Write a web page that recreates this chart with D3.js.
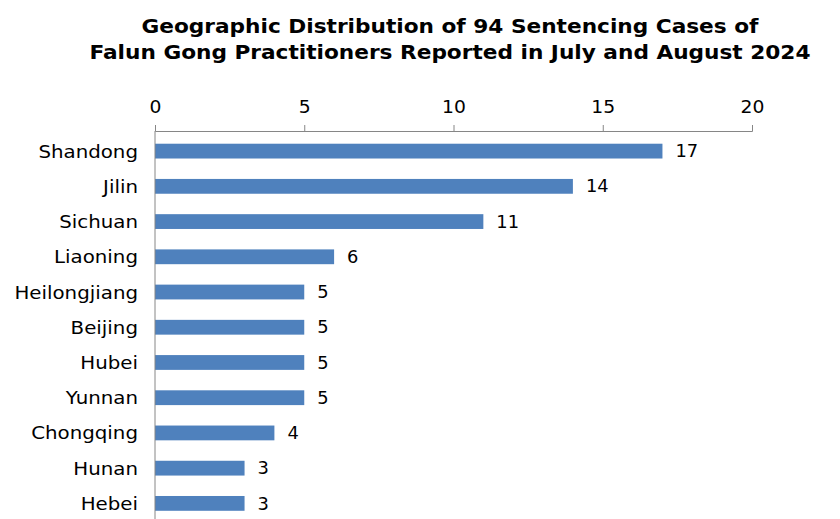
<!DOCTYPE html>
<head>
<meta charset="UTF-8">
<script src="https://cdn.jsdelivr.net/npm/d3@7"></script>
<style>
  body { margin: 0; background: #fff; }
  text { font-family: "DejaVu Sans", Verdana, sans-serif; }
</style>
</head>
<body>
<svg></svg>
<script>
var width = 840, height = 519;

// datos
var provincias = ["Shandong", "Jilin", "Sichuan", "Liaoning", "Heilongjiang", "Beijing",
                  "Hubei", "Yunnan", "Chongqing", "Hunan", "Hebei"];
var casos = [17, 14, 11, 6, 5, 5, 5, 5, 4, 3, 3];
var ticksX = [0, 5, 10, 15, 20];
var titulo = ["Geographic Distribution of 94 Sentencing Cases of",
              "Falun Gong Practitioners Reported in July and August 2024"];

var datos = provincias.map(function(p, i) { return { nombre: p, valor: casos[i] }; });

var svg = d3.select("svg").attr("width", width).attr("height", height);

var x = d3.scaleLinear().domain([0, 20]).range([155, 752]);
var y = d3.scaleBand().domain(provincias).range([133.5, 521]).paddingInner(0.58).paddingOuter(0.29);

// ensancha el texto (la fuente original es mas ancha que DejaVu)
function ensanchar(sel, factor) {
  sel.each(function() {
    var w = this.getComputedTextLength();
    d3.select(this).attr("textLength", w * factor).attr("lengthAdjust", "spacingAndGlyphs");
  });
}

// titulo
svg.append("g").selectAll("text")
  .data(titulo)
  .enter().append("text")
  .attr("x", 450)
  .attr("y", function(d, i) { return 33 + i * 26; })
  .attr("text-anchor", "middle")
  .attr("font-weight", "bold")
  .attr("font-size", "19.5px")
  .attr("fill", "#000")
  .text(function(d) { return d; })
  .call(ensanchar, 1.11);

// eje x arriba
var ejeX = svg.append("g")
  .attr("transform", "translate(0,131)")
  .call(d3.axisTop(x).tickValues(ticksX).tickSize(6).tickPadding(12).tickSizeOuter(6));
ejeX.select(".domain").attr("stroke", "#868686");
ejeX.selectAll(".tick line").attr("stroke", "#868686");
ejeX.selectAll(".tick text").attr("font-size", "17.5px").attr("fill", "#000")
  .attr("font-family", "DejaVu Sans, Verdana, sans-serif")
  .call(ensanchar, 1.07);

// barras
svg.append("g").selectAll("rect")
  .data(datos)
  .enter().append("rect")
  .attr("x", x(0))
  .attr("y", function(d) { return y(d.nombre); })
  .attr("width", function(d) { return x(d.valor) - x(0); })
  .attr("height", y.bandwidth())
  .attr("fill", "#4f81bd");

// eje y
svg.append("line")
  .attr("x1", x(0)).attr("x2", x(0))
  .attr("y1", 131).attr("y2", height)
  .attr("stroke", "#868686");

// etiquetas categorias
svg.append("g").selectAll("text")
  .data(datos)
  .enter().append("text")
  .attr("x", 138)
  .attr("y", function(d) { return y(d.nombre) + y.bandwidth() / 2; })
  .attr("dy", "0.36em")
  .attr("text-anchor", "end")
  .attr("font-size", "18px")
  .attr("fill", "#000")
  .text(function(d) { return d.nombre; })
  .call(ensanchar, 1.1);

// valores
svg.append("g").selectAll("text")
  .data(datos)
  .enter().append("text")
  .attr("x", function(d) { return x(d.valor) + 13; })
  .attr("y", function(d) { return y(d.nombre) + y.bandwidth() / 2; })
  .attr("dy", "0.36em")
  .attr("font-size", "17px")
  .attr("fill", "#000")
  .text(function(d) { return d.valor; })
  .call(ensanchar, 1.05);
</script>
</body>
